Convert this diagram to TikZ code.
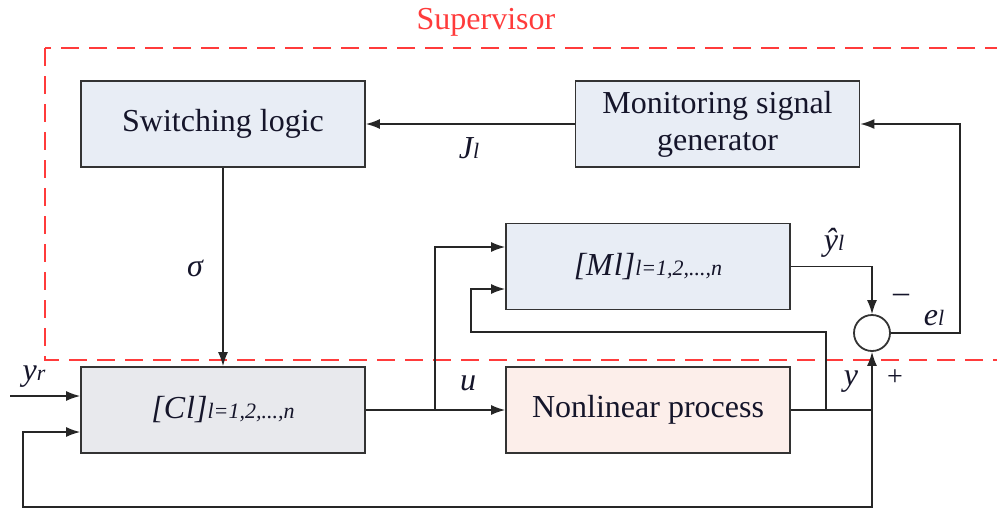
\documentclass[tikz,border=0pt]{standalone}
\usepackage{fontspec}
\setmainfont{Liberation Serif}
\usetikzlibrary{arrows.meta,calc}

\definecolor{boxblue}{HTML}{E8EDF5}
\definecolor{boxgray}{HTML}{E8E9ED}
\definecolor{boxpink}{HTML}{FCEEEA}
\definecolor{supred}{HTML}{FF3B3B}
\definecolor{txt}{HTML}{15152A}

\newcommand{\sub}[1]{{\fontsize{11}{12}\selectfont #1}}

\tikzset{
  block/.style={draw=black!80,line width=0.9pt,minimum width=142pt,minimum height=43pt,
    align=center,inner sep=2pt,text=txt,font=\fontsize{16}{18.5}\selectfont},
  sig/.style={draw=black!85,line width=0.7pt},
  arr/.style={sig,-{Latex[length=7pt,width=5pt]}},
  lbl/.style={font=\fontsize{16}{18}\selectfont\itshape,text=txt,inner sep=0pt},
}

\begin{document}
\begin{tikzpicture}[x=0.5pt,y=-0.5pt]
\useasboundingbox (0,0) rectangle (997,509);
\clip (0,0) rectangle (997,509);
% supervisor frame
\draw[supred,dash pattern=on 9pt off 5pt,line width=0.7pt] (45,48) rectangle (1010,360);
\node[text=supred,font=\fontsize{16}{18}\selectfont] (sup) at (486,22) {Supervisor};
% blocks
\node[block,fill=boxblue] (SL) at (223,124) {Switching logic};
\node[block,fill=boxblue] (MSG) at (717.5,124) {Monitoring signal\\generator};
\node[block,fill=boxblue] (M) at (648,266.5) {\itshape [M\kern0.5pt l]\sub{l=1,2,...,n}};
\node[block,fill=boxgray] (C) at (223,410) {\itshape [C\kern0.5pt l]\sub{l=1,2,...,n}};
\node[block,fill=boxpink] (NP) at (648,410) {Nonlinear process};
\node[circle,draw=black!80,line width=0.9pt,fill=white,minimum size=18pt,inner sep=0pt] (sum) at (872,333) {};
% branch points
\coordinate (uB) at (435,410);
\coordinate (yB) at (826,410);
\coordinate (yS) at (872,410);
\coordinate (eR) at (960,333);
\coordinate (fbL) at (23,507);
\coordinate (yrIn) at (10,396);
\coordinate (mLoop) at (471,332);
% connections
\draw[arr] (MSG.west) -- (SL.east);
\draw[arr] (SL.south) -- (C.north);
\draw[arr] (yrIn) -- (yrIn -| C.west);
\draw[sig] (C.east) -- (uB);
\draw[arr] (uB) -- (NP.west);
\draw[arr] (uB) |- ([yshift=9.75pt]M.west);
\draw[sig] (NP.east) -- (yS);
\draw[arr] (yS) -- (sum.south);
\draw[arr] (M.east) -| (sum.north);
\draw[arr] (sum.east) -- (eR) |- (MSG.east);
\draw[arr] (yB) |- (mLoop) |- ([yshift=-11.25pt]M.west);
\draw[arr] (yS) |- (fbL) |- ([yshift=-11pt]C.west);
% labels
\node[lbl] (Jl) at (469,148) {J\sub{l}};
\node[lbl] (sg) at (195,268) {σ};
\node[lbl] (yr) at (34,377) {y\sub{r}};
\node[lbl] (u) at (468,383) {u};
\node[lbl] (yh) at (834,243) {\^{y}\sub{l}};
\node[lbl,font=\fontsize{16}{18}\selectfont] (minus) at (901,298) {–};
\node[lbl] (el) at (934,318) {e\sub{l}};
\node[lbl,font=\fontsize{14}{16}\selectfont] (plus) at (895,378) {+};
\node[lbl] (y) at (851,382) {y};
\end{tikzpicture}
\end{document}
